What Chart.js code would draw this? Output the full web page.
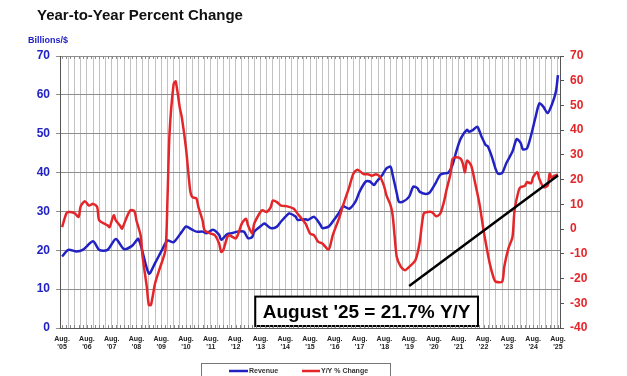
<!DOCTYPE html>
<html>
<head>
<meta charset="utf-8">
<script src="https://cdn.jsdelivr.net/npm/chart.js@4.4.1/dist/chart.umd.min.js"></script>
<style>
  body { margin: 0; background: #fff; }
  #wrap { width: 627px; height: 376px; }
</style>
</head>
<body>
<div id="wrap"><canvas id="chart" width="627" height="376"></canvas></div>
<script>
// x values are months counted from Aug 2005 (0) to Aug 2025 (240)
var revenueMonths = [0, 3, 7, 10, 15, 18, 22, 26, 30, 34, 37, 42, 45, 48, 51, 54, 58, 60, 63, 65, 68, 70, 73, 76, 77, 80, 82, 85, 88, 90, 92, 93, 97, 98, 101, 104, 106, 109, 110, 113, 114, 118, 119, 122, 125, 126, 129, 131, 134, 136, 139, 142, 144, 147, 149, 151, 152, 155, 157, 159, 160, 162, 163, 165, 168, 170, 172, 173, 176, 178, 181, 183, 185, 187, 189, 191, 193, 196, 197, 199, 201, 203, 205, 206, 208, 210, 211, 213, 215, 218, 220, 222, 223, 225, 227, 229, 231, 233, 235, 237, 239, 240];
var revenueValues = [18.4, 20.1, 19.7, 20.1, 22.3, 20.1, 20.1, 22.9, 20.3, 21.2, 22.9, 14.0, 16.7, 19.7, 22.5, 22.1, 24.8, 26.1, 25.3, 24.8, 24.8, 24.4, 25.3, 24.0, 22.7, 24.2, 24.4, 24.8, 24.8, 23.1, 23.4, 24.8, 26.6, 26.9, 25.7, 26.1, 27.4, 29.1, 29.5, 28.7, 27.8, 28.0, 27.8, 28.6, 26.6, 25.7, 26.1, 27.4, 29.6, 31.3, 30.7, 32.5, 35.1, 37.7, 37.7, 36.8, 37.5, 39.4, 41.1, 41.5, 39.4, 34.7, 32.5, 32.5, 33.8, 36.4, 36.0, 35.1, 34.5, 34.9, 37.5, 39.4, 39.8, 40.0, 42.0, 45.8, 48.8, 51.0, 50.5, 51.0, 51.8, 49.3, 47.1, 46.8, 44.1, 40.7, 39.7, 39.9, 42.4, 45.4, 48.6, 47.6, 46.0, 46.2, 49.6, 53.9, 57.8, 56.9, 55.3, 57.4, 60.8, 65.1];

var yoyMonths = [0, 2, 3, 6, 8, 9, 11, 13, 15, 17, 18, 22, 23, 25, 26, 28, 29, 31, 33, 35, 36, 38, 39, 41, 42, 43, 45, 47, 50, 51, 52, 54, 55, 57, 58, 60, 62, 63, 65, 66, 68, 69, 72, 74, 76, 77, 78, 80, 81, 84, 85, 87, 89, 90, 92, 93, 96, 97, 99, 101, 102, 104, 106, 109, 112, 114, 116, 118, 120, 122, 124, 126, 129, 131, 134, 136, 139, 141, 143, 146, 148, 150, 152, 154, 156, 157, 159, 160, 161, 162, 164, 166, 168, 171, 173, 175, 177, 179, 181, 183, 185, 186, 188, 189, 191, 193, 194, 195, 196, 198, 200, 202, 204, 205, 207, 209, 210, 213, 214, 216, 218, 219, 221, 222, 224, 225, 227, 228, 230, 231, 233, 235, 236, 237, 238, 240];
var yoyValues = [0.8, 6.2, 6.9, 6.5, 4.9, 9.2, 11.3, 9.5, 10.2, 8.9, 3.5, 1.5, 0.8, 5.6, 3.5, 1.5, 0.2, 4.2, 7.6, 7.3, 3.5, -2.5, -11.3, -23.3, -30.7, -30.7, -22.0, -16.6, -8.5, 11.6, 38.5, 58.7, 59.7, 49.0, 45.0, 32.5, 15.6, 13.0, 12.4, 8.9, 3.5, -0.5, -1.8, -2.5, -5.8, -9.2, -8.5, -3.2, -2.5, -3.8, -2.5, 2.2, 4.2, 1.5, -1.8, 2.2, 6.9, 7.6, 6.9, 8.9, 11.6, 10.9, 9.5, 9.2, 8.3, 6.2, 4.2, 2.0, -1.8, -2.5, -5.2, -5.8, -8.3, -2.5, 4.2, 9.6, 17.0, 22.4, 24.0, 22.2, 22.2, 21.6, 22.2, 21.0, 17.0, 13.6, 9.6, 5.6, -3.2, -11.3, -15.3, -16.6, -15.3, -12.6, -5.8, 6.2, 6.9, 6.9, 5.2, 6.2, 11.6, 15.6, 22.4, 28.4, 29.1, 28.4, 26.4, 23.0, 27.7, 25.7, 18.3, 10.3, -0.5, -5.2, -13.9, -20.0, -21.3, -21.3, -15.3, -7.9, -3.2, 7.6, 15.6, 17.0, 17.5, 19.0, 18.5, 21.0, 23.0, 20.3, 17.0, 17.5, 22.4, 20.5, 21.5, 22.1];

var trendMonths = [168, 240];
var trendValues = [-23.0, 21.7];

var yearLabels = ["'05", "'06", "'07", "'08", "'09", "'10", "'11", "'12", "'13", "'14", "'15", "'16", "'17", "'18", "'19", "'20", "'21", "'22", "'23", "'24", "'25"];
var calloutText = "August '25 = 21.7% Y/Y";

var FONT = "'Liberation Sans', Arial, sans-serif";
var BLUE = '#2222c4';
var RED = '#e4262a';

function toPoints(xs, ys) {
    return xs.map(function (m, i) { return { x: m, y: ys[i] }; });
}

var extrasPlugin = {
    id: 'extras',
    afterDatasetsDraw: function (chart) {
        let ctx = chart.ctx;
        let xs = chart.scales.x;
        let ys = chart.scales.y1;

        // callout box sitting on the chart
        let left = xs.getPixelForValue(93.5);
        let right = xs.getPixelForValue(201.3);
        let top = ys.getPixelForValue(-27.3);
        let bottom = ys.getPixelForValue(-39.2);
        ctx.save();
        ctx.fillStyle = '#fff';
        ctx.fillRect(left, top, right - left, bottom - top);
        ctx.lineWidth = 2;
        ctx.strokeStyle = '#000';
        ctx.strokeRect(left, top, right - left, bottom - top);
        ctx.fillStyle = '#000';
        ctx.font = 'bold 19px ' + FONT;
        ctx.textAlign = 'center';
        ctx.textBaseline = 'middle';
        ctx.fillText(calloutText, (left + right) / 2, (top + bottom) / 2 + 1);
        ctx.restore();
    },
    afterDraw: function (chart) {
        let ctx = chart.ctx;
        let area = chart.chartArea;
        let xs = chart.scales.x;
        ctx.save();

        // small minor ticks along top and bottom edges
        ctx.strokeStyle = '#888';
        ctx.lineWidth = 1;
        for (let m = 0; m <= 240; m += 2) {
            let px = Math.round(xs.getPixelForValue(m)) + 0.5;
            ctx.beginPath();
            ctx.moveTo(px, area.top);
            ctx.lineTo(px, area.top + 3);
            ctx.moveTo(px, area.bottom);
            ctx.lineTo(px, area.bottom - 3);
            ctx.stroke();
        }

        // titles
        ctx.fillStyle = '#111';
        ctx.font = 'bold 15px ' + FONT;
        ctx.textAlign = 'left';
        ctx.textBaseline = 'alphabetic';
        ctx.fillText('Year-to-Year Percent Change', 37, 20);

        ctx.fillStyle = BLUE;
        ctx.font = 'bold 9px ' + FONT;
        ctx.fillText('Billions/$', 28, 43);

        // legend
        ctx.strokeStyle = '#777';
        ctx.lineWidth = 1;
        ctx.strokeRect(201.5, 363.5, 189, 20);
        ctx.lineWidth = 2.5;
        ctx.strokeStyle = BLUE;
        ctx.beginPath(); ctx.moveTo(229, 371); ctx.lineTo(248, 371); ctx.stroke();
        ctx.strokeStyle = RED;
        ctx.beginPath(); ctx.moveTo(302, 371); ctx.lineTo(320, 371); ctx.stroke();
        ctx.fillStyle = '#333';
        ctx.font = 'bold 7px ' + FONT;
        ctx.textBaseline = 'middle';
        ctx.fillText('Revenue', 249, 371);
        ctx.fillText('Y/Y % Change', 321, 371);
        ctx.restore();
    }
};

let ctx = document.getElementById('chart').getContext('2d');

let chart = new Chart(ctx, {
    type: 'line',
    data: {
        datasets: [{
            label: 'Trend',
            data: toPoints(trendMonths, trendValues),
            yAxisID: 'y1',
            borderColor: '#000',
            borderWidth: 2.5,
            pointRadius: 0,
            order: 0
        }, {
            label: 'Y/Y % Change',
            data: toPoints(yoyMonths, yoyValues),
            yAxisID: 'y1',
            borderColor: RED,
            borderWidth: 2.5,
            pointRadius: 0,
            tension: 0.25,
            order: 1
        }, {
            label: 'Revenue',
            data: toPoints(revenueMonths, revenueValues),
            yAxisID: 'y',
            borderColor: BLUE,
            borderWidth: 2.5,
            pointRadius: 0,
            tension: 0.25,
            order: 2
        }]
    },
    options: {
        responsive: false,
        animation: false,
        layout: { padding: { top: 56, left: 0, right: 0, bottom: 0 } },
        plugins: {
            legend: { display: false },
            tooltip: { enabled: false }
        },
        scales: {
            x: {
                type: 'linear',
                min: -1,
                max: 241,
                afterFit: function (s) { s.height = 48; },
                border: { color: '#555', width: 1 },
                grid: {
                    drawTicks: false,
                    color: function (c) {
                        return (c.tick && c.tick.value % 3 === 0 && c.tick.value > 0) ? '#c2c2c2' : 'rgba(0,0,0,0)';
                    }
                },
                ticks: {
                    stepSize: 3,
                    autoSkip: false,
                    includeBounds: false,
                    maxRotation: 0,
                    padding: 7,
                    color: '#222',
                    font: { family: FONT, size: 7, weight: 'bold', lineHeight: 1.15 },
                    callback: function (v) {
                        if (v % 12 === 0) return ['Aug.', yearLabels[v / 12]];
                        return '';
                    }
                }
            },
            y: {
                position: 'left',
                min: 0,
                max: 70,
                afterFit: function (s) { s.width = 60; },
                border: { color: '#555', width: 1 },
                grid: { color: '#8e8e8e', tickLength: 4 },
                ticks: {
                    stepSize: 10,
                    padding: 6,
                    color: BLUE,
                    font: { family: FONT, size: 12, weight: 'bold' }
                }
            },
            y1: {
                position: 'right',
                min: -40,
                max: 70,
                afterFit: function (s) { s.width = 67; },
                border: { color: '#555', width: 1 },
                grid: { drawOnChartArea: false, color: '#555', tickLength: 4 },
                ticks: {
                    stepSize: 10,
                    padding: 6,
                    color: RED,
                    font: { family: FONT, size: 12, weight: 'bold' }
                }
            }
        }
    },
    plugins: [extrasPlugin]
});
</script>
</body>
</html>
